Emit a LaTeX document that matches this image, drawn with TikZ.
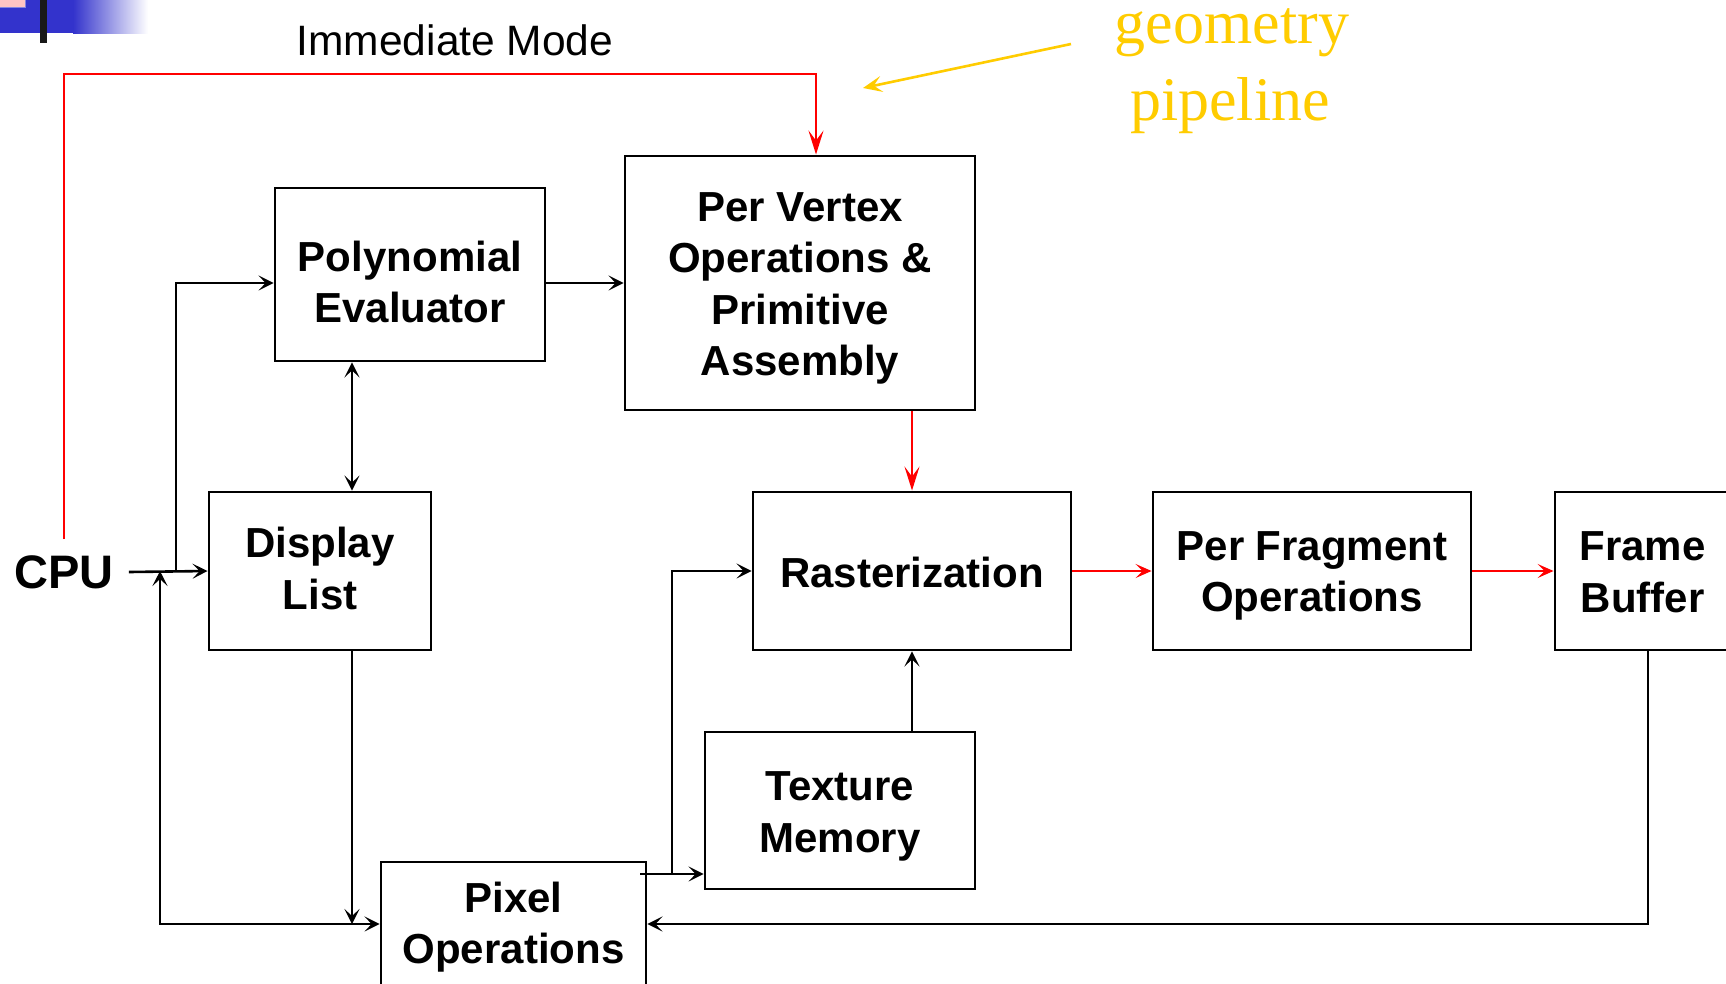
\documentclass[tikz,border=0pt]{standalone}
\usepackage{fontspec}
\setmainfont{Liberation Sans}
\newfontfamily\timesfont{Liberation Serif}
\usetikzlibrary{arrows.meta}
\definecolor{pipered}{HTML}{FF0000}
\definecolor{noteyellow}{HTML}{FFCC00}
\definecolor{logoblue}{HTML}{3333CC}
\definecolor{logopink}{HTML}{FFC4C4}
\begin{document}
\begin{tikzpicture}[x=1pt, y=-1pt,
  box/.style={draw, line width=2.9pt, inner sep=0pt},
  boxtext/.style={align=center, inner sep=0pt,
    font=\bfseries\fontsize{42}{51.5}\selectfont},
  link/.style={line width=2.6pt, -{Stealth[length=15pt,width=15pt,inset=7pt]}},
  bilink/.style={line width=2.6pt, {Stealth[length=15pt,width=15pt,inset=7pt]}-{Stealth[length=15pt,width=15pt,inset=7pt]}},
  redlink/.style={pipered, line width=2.6pt, -{Stealth[length=16pt,width=14pt,inset=7pt]}},
  reddrop/.style={pipered, line width=2.6pt, -{Stealth[length=24pt,width=15pt,inset=10pt]}},
  notelink/.style={noteyellow, line width=2.6pt, -{Stealth[length=19pt,width=16pt,inset=8pt]}},
  notetext/.style={noteyellow, anchor=base, inner sep=0pt, font=\timesfont\fontsize{62}{74}\selectfont}]

\useasboundingbox (0,0) rectangle (1726,983);
\clip (0,0) rectangle (1726,983);
\fill[white] (0,0) rectangle (1726,983);

% corner ornament
\fill[logoblue] (0,0) rectangle (74,33);
\shade[left color=logoblue, right color=white] (73,0) rectangle (148,33);
\filldraw[fill=logopink, draw=logoblue!60, line width=0.6pt] (-1,-1) rectangle (25,7);
\fill[black!90] (40,0) rectangle (47,43);

% processing blocks
\node[box, minimum width=270pt, minimum height=173pt] (poly) at (410,274.5) {};
\node[box, minimum width=350pt, minimum height=254pt] (pv) at (800,283) {};
\node[box, minimum width=222pt, minimum height=158pt] (dl) at (320,571) {};
\node[box, minimum width=318pt, minimum height=158pt] (ras) at (912,571) {};
\node[box, minimum width=318pt, minimum height=158pt] (pf) at (1312,571) {};
\node[box, minimum width=175pt, minimum height=158pt] (fb) at (1642.5,571) {};
\node[box, minimum width=270pt, minimum height=157pt] (tex) at (840,810.5) {};
\node[box, minimum width=265pt, minimum height=124pt] (pix) at (513.5,924) {};

% block captions
\node[boxtext] (polytext) at ([yshift=-7.7pt]poly.center) {Polynomial\\Evaluator};
\node[boxtext] (pvtext) at ([yshift=-5.5pt]pv.center) {Per Vertex\\Operations \&\\Primitive\\Assembly};
\node[boxtext] (dltext) at ([yshift=2.7pt]dl.center) {Display\\List};
\node[boxtext] (rastext) at ([yshift=-1pt]ras.center) {Rasterization};
\node[boxtext] (pftext) at ([yshift=-5pt]pf.center) {Per Fragment\\Operations};
\node[boxtext] (fbtext) at ([yshift=-1pt]fb.center) {Frame\\Buffer};
\node[boxtext] (textext) at ([yshift=-6pt]tex.center) {Texture\\Memory};
\node[boxtext] (pixtext) at ([yshift=-3.3pt]pix.center) {Pixel\\Operations};

\node[font=\bfseries\fontsize{47}{47}\selectfont, inner xsep=15pt, inner ysep=16pt] (cpu) at (64,572) {CPU};
\node[font=\fontsize{42.5}{42.5}\selectfont, anchor=base, inner sep=0pt] (imlabel) at (455,55) {Immediate Mode};

% routing points
\coordinate (imm) at (816,74);
\coordinate (split) at (176,571);
\coordinate (cpuret) at (160,571);
\coordinate (dlcol) at (352,571);
\coordinate (pixout) at (640,874);
\coordinate (rasfeed) at (672,874);

% immediate mode path
\draw[reddrop] (cpu.north) -- (cpu.north |- imm) -- (imm) -- (imm |- pv.north);

% black data paths
\draw[link] (cpu.east) -- (dl.west);
\draw[link] (split) |- ([yshift=-8.5pt]poly.west);
\draw[link] ([yshift=-8.5pt]poly.east) -- ([yshift=-8.5pt]poly.east -| pv.west);
\draw[bilink] (poly.south -| dlcol) -- (dl.north -| dlcol);
\draw[link] (dl.south -| dlcol) -- (dlcol |- pix.west);
\draw[bilink] (cpuret) |- (pix.west);
\draw[link] ([xshift=5.5pt]fb.south) |- (pix.east);
\draw[link] (pixout) -- (pixout -| tex.west);
\draw[link] (rasfeed) |- (ras.west);
\draw[link] (ras.south |- tex.north) -- (ras.south);

% geometry pipeline (red)
\draw[reddrop] (ras.north |- pv.south) -- (ras.north);
\draw[redlink] (ras.east) -- (pf.west);
\draw[redlink] (pf.east) -- (fb.west);

% annotation
\node[notetext] (geo) at (1232,43) {geometry};
\node[notetext] (pipe) at (1230,120) {pipeline};
\coordinate (notefrom) at (1071,44);
\coordinate (noteto) at (863,88);
\draw[notelink] (notefrom) -- (noteto);
\end{tikzpicture}
\end{document}
